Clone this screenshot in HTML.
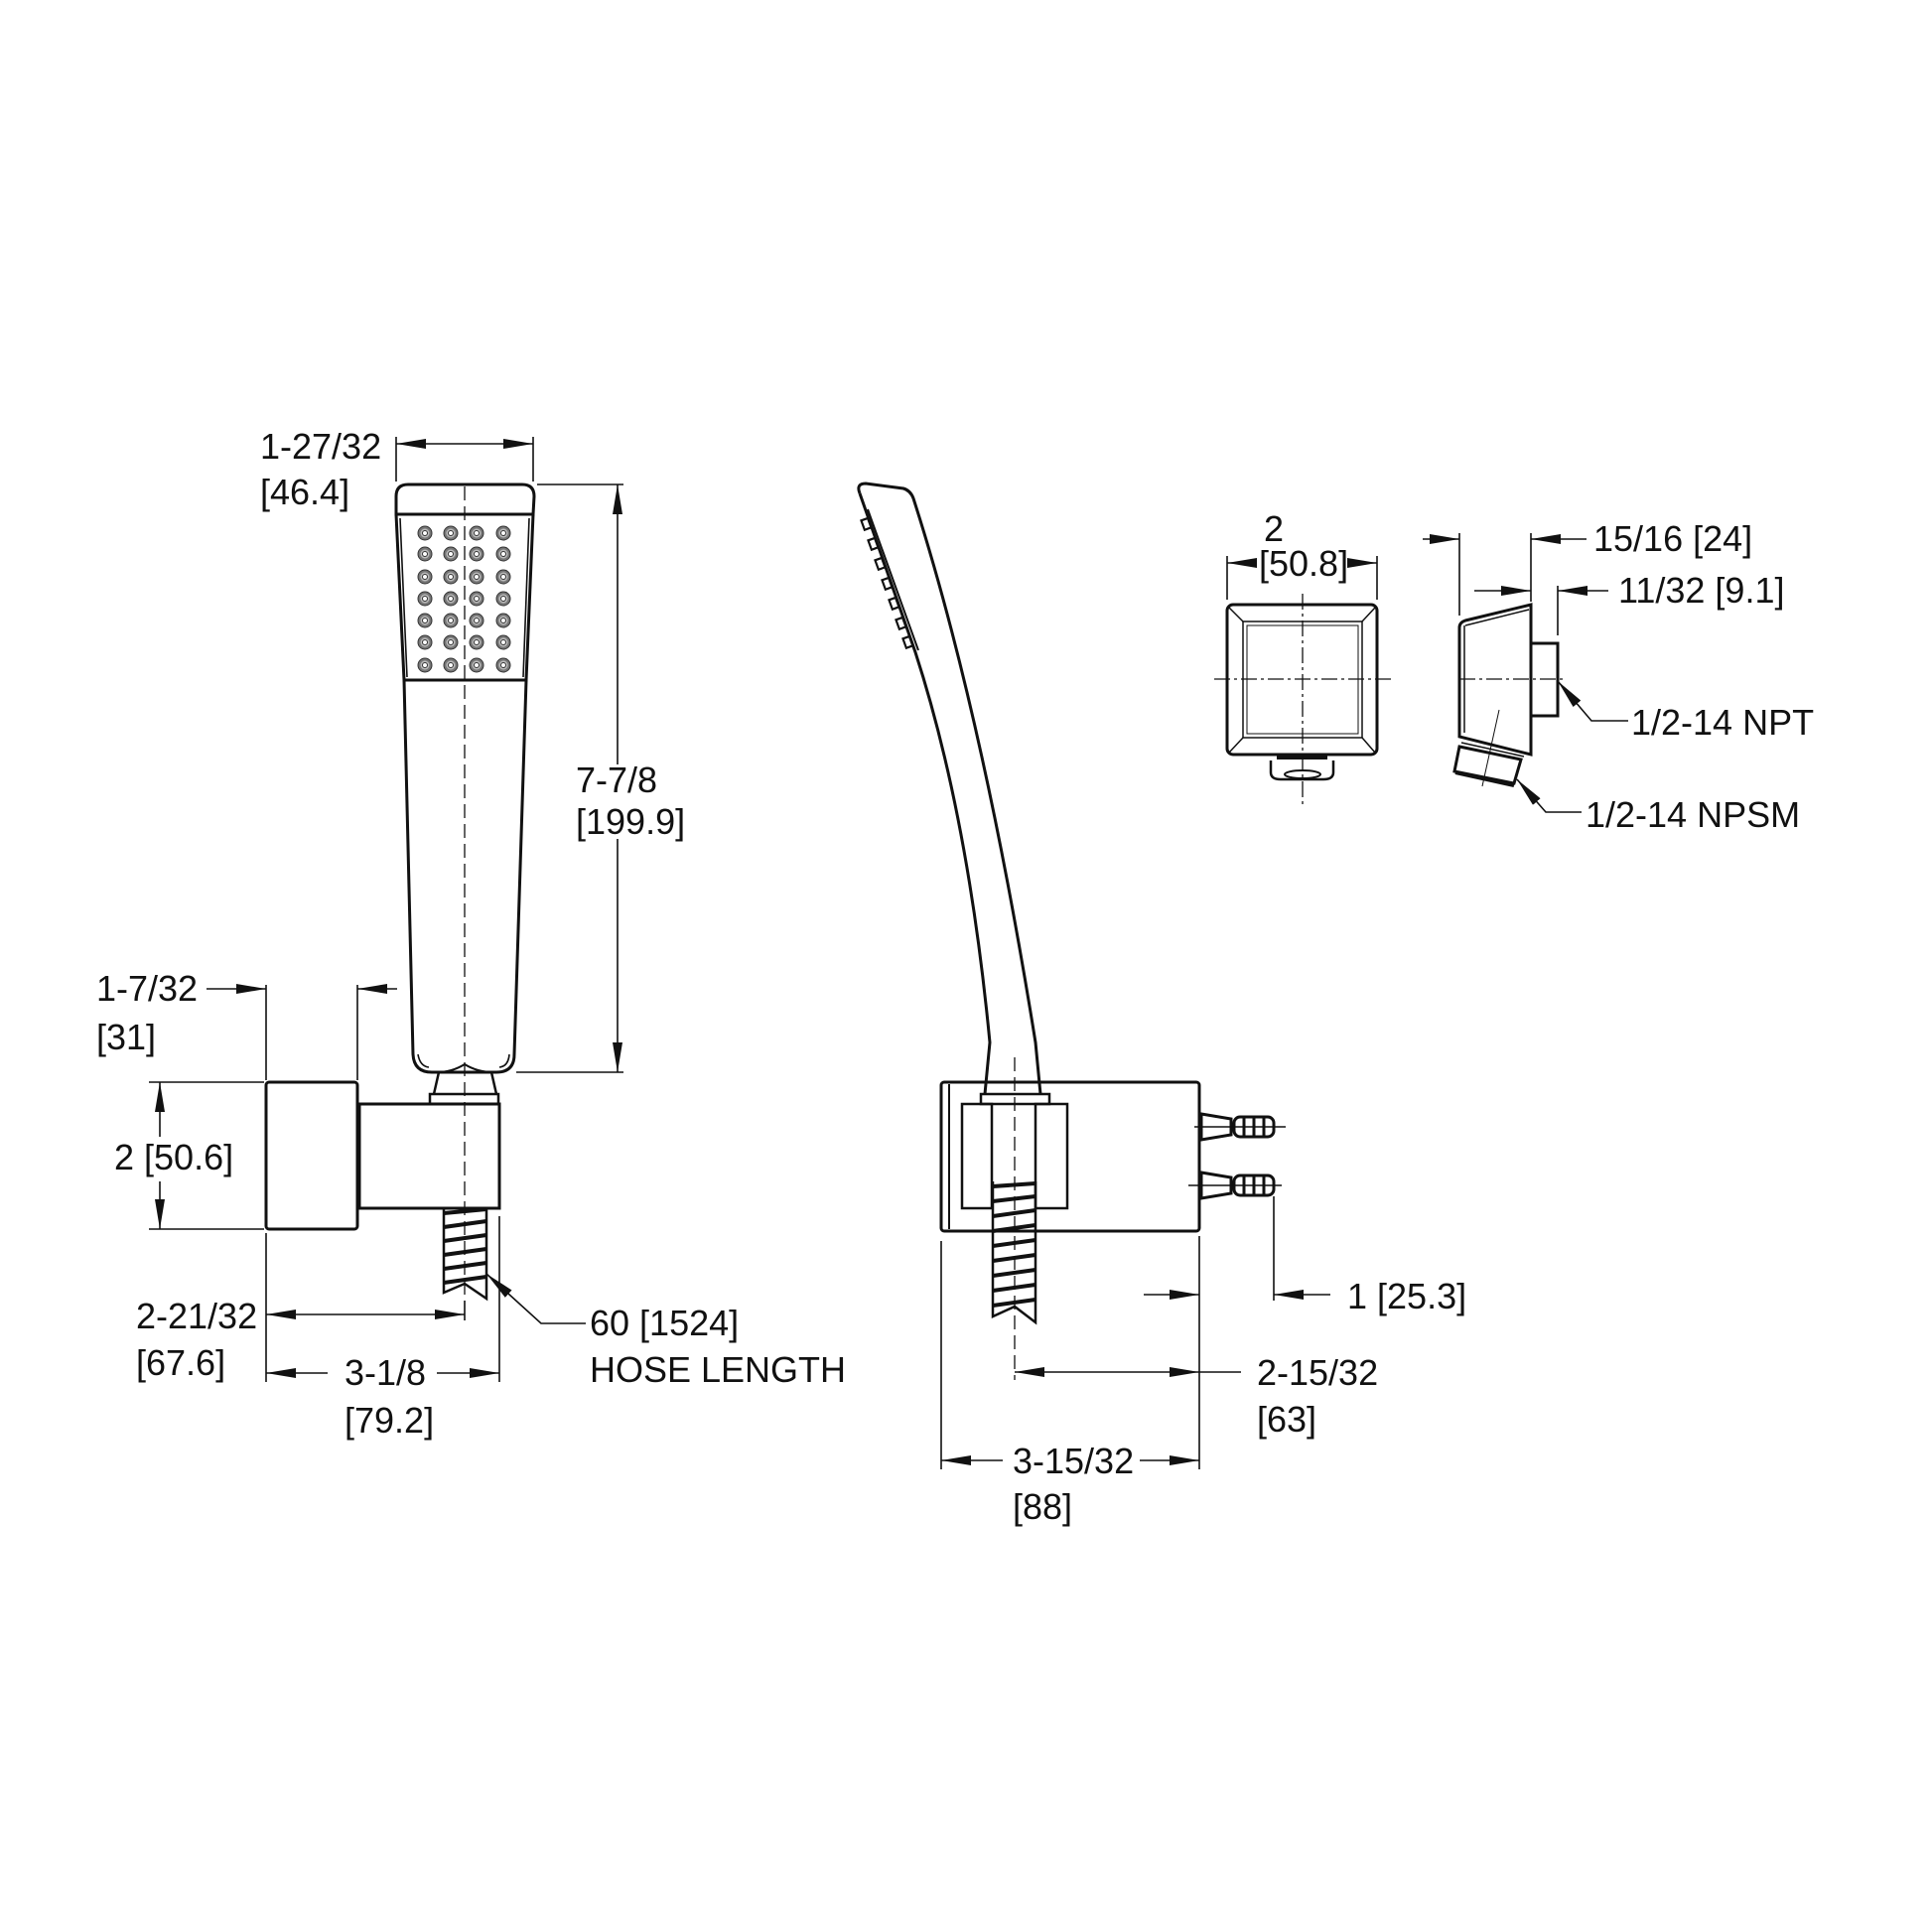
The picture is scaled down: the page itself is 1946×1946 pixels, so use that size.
<!DOCTYPE html>
<html><head><meta charset="utf-8"><style>
html,body{margin:0;padding:0;background:#fff;}
svg{display:block;}
text{font-family:"Liberation Sans",Arial,sans-serif;font-size:36px;fill:#111;}
</style></head><body>
<svg width="1946" height="1946" viewBox="0 0 1946 1946" xmlns="http://www.w3.org/2000/svg">
<defs>
<marker id="a" viewBox="0 0 30 10" refX="30" refY="5" markerWidth="30" markerHeight="10" markerUnits="userSpaceOnUse" orient="auto"><path d="M0,0 L30,5 L0,10 Z" fill="#111"/></marker>
<g id="dot"><circle r="7" fill="#777" stroke="#333" stroke-width="1"/><circle r="4.5" fill="#bbb"/><circle r="2.5" fill="#fff" stroke="#333" stroke-width="1"/></g>
</defs>
<g fill="none" stroke="#111" stroke-width="1.6">
<!-- ===== FRONT VIEW ===== -->
<path d="M399,500 Q399,488 411,488 L526,488 Q538,488 538,500 L537,518 L399,518 Z" stroke-width="3"/>
<path d="M399,518 L407,685 L530,685 L537,518" stroke-width="3"/>
<path d="M403,522 L410,682 M533,522 L527,682"/>
<path d="M407,685 L416,1062 Q417,1080 435,1080 L500,1080 Q518,1080 518,1062 L530,685" stroke-width="3"/>
<path d="M421,1062 Q423,1074 432,1075 M513,1062 Q512,1074 503,1075"/>
<path d="M440,1080 Q455,1080 468,1072 Q481,1080 497,1080" stroke-width="2"/>
<path d="M442,1080 L437,1102 M495,1080 L500,1102" stroke-width="2.5"/>
<rect x="433" y="1102" width="69" height="10" stroke-width="2.5"/>
<rect x="362" y="1112" width="141" height="105" stroke-width="3"/>
<rect x="268" y="1090" width="92" height="148" rx="3" stroke-width="3"/>
<path d="M447,1217 L447,1302 L468,1293 L490,1308 L490,1217" stroke-width="2.5"/>
<g stroke-width="4">
<path d="M447,1222 L490,1218 M447,1236 L490,1230 M447,1250 L490,1244 M447,1264 L490,1258 M447,1278 L490,1272 M447,1292 L490,1286"/>
</g>
<path d="M468,490 L468,1310" stroke-dasharray="14,6" stroke-width="1.3"/>
<path d="M399,485 L399,440 M537,485 L537,440"/>
<path d="M468,447 L399,447" marker-end="url(#a)"/><path d="M468,447 L537,447" marker-end="url(#a)"/>
<path d="M541,488 L628,488 M520,1080 L628,1080"/>
<path d="M622,770 L622,488" marker-end="url(#a)"/><path d="M622,845 L622,1080" marker-end="url(#a)"/>
<path d="M268,992 L268,1088 M360,992 L360,1088"/>
<path d="M208,996 L268,996" marker-end="url(#a)"/><path d="M400,996 L360,996" marker-end="url(#a)"/>
<path d="M150,1090 L266,1090 M150,1238 L266,1238"/>
<path d="M161,1145 L161,1090" marker-end="url(#a)"/><path d="M161,1190 L161,1238" marker-end="url(#a)"/>
<path d="M268,1242 L268,1392 M468,1310 L468,1330 M503,1225 L503,1392"/>
<path d="M368,1324 L268,1324" marker-end="url(#a)"/><path d="M368,1324 L468,1324" marker-end="url(#a)"/>
<path d="M330,1383 L268,1383" marker-end="url(#a)"/><path d="M440,1383 L503,1383" marker-end="url(#a)"/>
<path d="M590,1333 L545,1333 L490,1283" marker-end="url(#a)"/>
<!-- ===== SIDE VIEW ===== -->
<path d="M866,497 Q862,487 872,487 L910,492 Q917,494 920,502 Q990,720 1043,1050 L1048,1102" stroke-width="3"/>
<path d="M866,497 L922,657 Q975,820 997,1050 L992,1102" stroke-width="3"/>
<path d="M874,513 L925,655" stroke-width="2"/>
<g stroke-width="2.2">
<rect x="869" y="523" width="7" height="10" transform="rotate(-20 872 528)"/>
<rect x="876" y="543" width="7" height="10" transform="rotate(-20 879 548)"/>
<rect x="883" y="563" width="7" height="10" transform="rotate(-20 886 568)"/>
<rect x="890" y="583" width="7" height="10" transform="rotate(-20 893 588)"/>
<rect x="897" y="603" width="7" height="10" transform="rotate(-20 900 608)"/>
<rect x="904" y="623" width="7" height="10" transform="rotate(-20 907 628)"/>
<rect x="911" y="642" width="7" height="10" transform="rotate(-20 914 647)"/>
</g>
<rect x="948" y="1090" width="260" height="150" rx="3" stroke-width="3"/>
<path d="M956,1092 L956,1238" stroke-width="2"/>
<rect x="988" y="1102" width="69" height="10" stroke-width="2.5"/>
<rect x="969" y="1112" width="30" height="105" stroke-width="2.5"/>
<rect x="1043" y="1112" width="32" height="105" stroke-width="2.5"/>
<path d="M1000,1190 L1000,1326 L1022,1316 L1043,1332 L1043,1190" stroke-width="2.5"/>
<g stroke-width="4">
<path d="M1000,1195 L1043,1192 M1000,1210 L1043,1205 M1000,1225 L1043,1219 M1000,1240 L1043,1234 M1000,1255 L1043,1249 M1000,1270 L1043,1264 M1000,1285 L1043,1279 M1000,1300 L1043,1294 M1000,1315 L1043,1309"/>
</g>
<path d="M1022,1065 L1022,1390" stroke-dasharray="14,6" stroke-width="1.3"/>
<g stroke-width="3">
<path d="M1210,1122 L1240,1127 L1240,1143 L1210,1148 Z"/>
<rect x="1243" y="1125" width="40" height="20" rx="6"/>
<path d="M1253,1125 L1253,1145 M1263,1125 L1263,1145 M1273,1125 L1273,1145"/>
<path d="M1210,1181 L1240,1186 L1240,1202 L1210,1207 Z"/>
<rect x="1243" y="1184" width="40" height="20" rx="6"/>
<path d="M1253,1184 L1253,1204 M1263,1184 L1263,1204 M1273,1184 L1273,1204"/>
</g>
<path d="M1203,1135 L1295,1135 M1197,1194 L1291,1194"/>
<path d="M948,1250 L948,1480 M1208,1245 L1208,1480 M1283,1205 L1283,1310"/>
<path d="M1152,1304 L1208,1304" marker-end="url(#a)"/><path d="M1340,1304 L1283,1304" marker-end="url(#a)"/>
<path d="M1115,1382 L1022,1382" marker-end="url(#a)"/><path d="M1115,1382 L1208,1382" marker-end="url(#a)"/><path d="M1208,1382 L1250,1382"/>
<path d="M1010,1471 L948,1471" marker-end="url(#a)"/><path d="M1148,1471 L1208,1471" marker-end="url(#a)"/>
<!-- ===== SMALL FRONT ===== -->
<rect x="1236" y="609" width="151" height="151" rx="6" stroke-width="3"/>
<rect x="1252" y="626" width="120" height="117" stroke-width="1.5"/>
<rect x="1256" y="630" width="112" height="109" stroke-width="1"/>
<path d="M1238,612 L1252,626 M1385,612 L1372,626 M1238,758 L1252,743 M1385,758 L1372,743" stroke-width="1.5"/>
<path d="M1280,766 L1280,778 Q1280,785 1290,785 L1333,785 Q1343,785 1343,778 L1343,766" stroke-width="2.5"/>
<path d="M1286,762 L1337,762" stroke-width="6"/>
<ellipse cx="1312" cy="780" rx="18" ry="4" stroke-width="2"/>
<path d="M1223,684 L1403,684 M1312,598 L1312,812" stroke-dasharray="16,4,3,4" stroke-width="1.3"/>
<path d="M1236,604 L1236,560 M1387,604 L1387,560"/>
<path d="M1266,567 L1236,567" marker-end="url(#a)"/><path d="M1357,567 L1387,567" marker-end="url(#a)"/>
<!-- ===== SMALL SIDE ===== -->
<path d="M1470,632 Q1470,627 1476,625 L1542,609 L1542,760 L1470,742 Z" stroke-width="3"/>
<path d="M1475,630 L1475,738 M1476,630 L1540,614" stroke-width="1.5"/>
<rect x="1542" y="648" width="27" height="73" stroke-width="3"/>
<path d="M1470,752 L1532,765 L1525,789 L1465,777 Z" stroke-width="3"/>
<path d="M1472,748 L1535,762" stroke-width="1.5"/>
<path d="M1466,778 L1525,791" stroke-width="4"/>
<path d="M1470,684 L1578,684" stroke-dasharray="16,4,3,4" stroke-width="1.3"/>
<path d="M1510,715 L1493,792" stroke-width="1"/>
<path d="M1470,620 L1470,537 M1542,606 L1542,537 M1569,640 L1569,590"/>
<path d="M1433,543 L1470,543" marker-end="url(#a)"/><path d="M1598,543 L1542,543" marker-end="url(#a)"/>
<path d="M1485,595 L1542,595" marker-end="url(#a)"/><path d="M1620,595 L1569,595" marker-end="url(#a)"/>
<path d="M1640,726 L1603,726 L1569,686" marker-end="url(#a)"/>
<path d="M1593,818 L1557,818 L1528,785" marker-end="url(#a)"/>
</g>
<!-- labels -->
<text x="262" y="462">1-27/32</text>
<text x="262" y="508">[46.4]</text>
<text x="580" y="798">7-7/8</text>
<text x="580" y="840">[199.9]</text>
<text x="97" y="1008">1-7/32</text>
<text x="97" y="1057">[31]</text>
<text x="115" y="1178">2 [50.6]</text>
<text x="137" y="1338">2-21/32</text>
<text x="137" y="1385">[67.6]</text>
<text x="347" y="1395">3-1/8</text>
<text x="347" y="1443">[79.2]</text>
<text x="594" y="1345">60 [1524]</text>
<text x="594" y="1392">HOSE LENGTH</text>
<text x="1357" y="1318">1  [25.3]</text>
<text x="1266" y="1395">2-15/32</text>
<text x="1266" y="1442">[63]</text>
<text x="1020" y="1484">3-15/32</text>
<text x="1020" y="1530">[88]</text>
<text x="1273" y="545">2</text>
<text x="1268" y="580">[50.8]</text>
<text x="1605" y="555">15/16 [24]</text>
<text x="1630" y="607">11/32 [9.1]</text>
<text x="1643" y="740">1/2-14 NPT</text>
<text x="1597" y="833">1/2-14 NPSM</text>
<g>
<use href="#dot" x="428" y="537"/><use href="#dot" x="454" y="537"/><use href="#dot" x="480" y="537"/><use href="#dot" x="507" y="537"/>
<use href="#dot" x="428" y="558"/><use href="#dot" x="454" y="558"/><use href="#dot" x="480" y="558"/><use href="#dot" x="507" y="558"/>
<use href="#dot" x="428" y="581"/><use href="#dot" x="454" y="581"/><use href="#dot" x="480" y="581"/><use href="#dot" x="507" y="581"/>
<use href="#dot" x="428" y="603"/><use href="#dot" x="454" y="603"/><use href="#dot" x="480" y="603"/><use href="#dot" x="507" y="603"/>
<use href="#dot" x="428" y="625"/><use href="#dot" x="454" y="625"/><use href="#dot" x="480" y="625"/><use href="#dot" x="507" y="625"/>
<use href="#dot" x="428" y="647"/><use href="#dot" x="454" y="647"/><use href="#dot" x="480" y="647"/><use href="#dot" x="507" y="647"/>
<use href="#dot" x="428" y="670"/><use href="#dot" x="454" y="670"/><use href="#dot" x="480" y="670"/><use href="#dot" x="507" y="670"/>
</g>
</svg>
</body></html>
